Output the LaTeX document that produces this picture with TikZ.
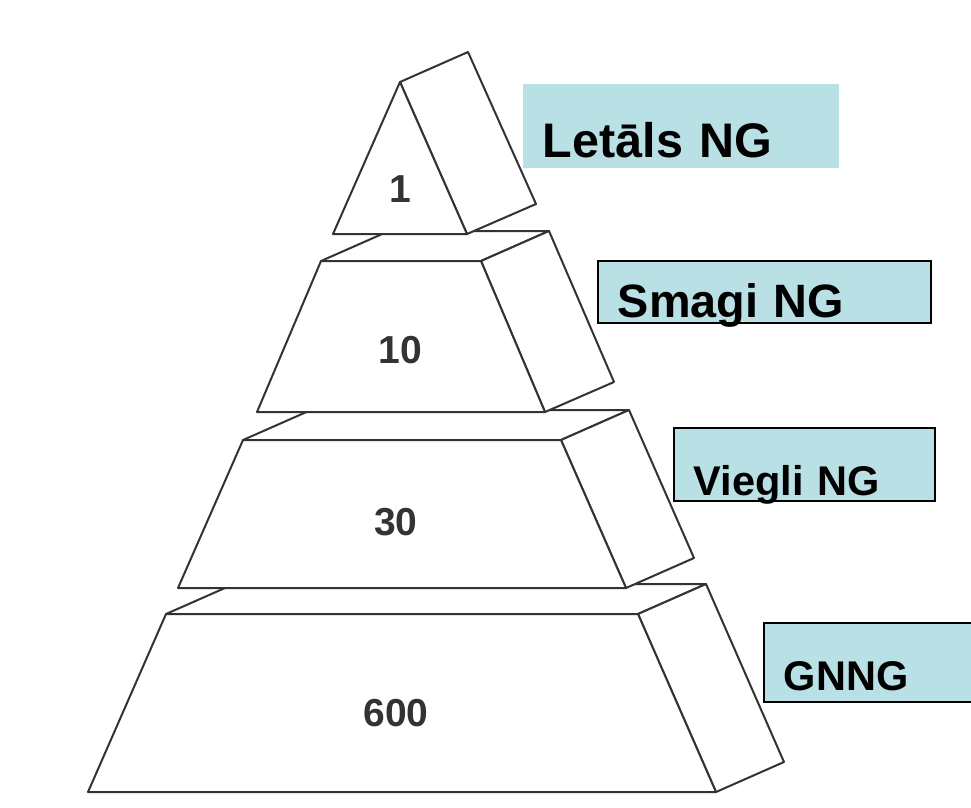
\documentclass[tikz,border=0pt]{standalone}
\usepackage{fontspec}
\setsansfont{Liberation Sans}
\definecolor{tagcyan}{RGB}{185,224,228}
\newcommand\labelsize[1]{\sffamily\bfseries\fontsize{#1}{#1}\selectfont}
\tikzset{
  block/.style={draw=black!80, line width=2pt, line join=round, fill=white},
  count/.style={font=\labelsize{39}, text=black!80},
  tag/.style={fill=tagcyan, draw=black, line width=1.6pt, anchor=north west,
    inner xsep=20pt, inner ysep=0pt, align=left},
}
\begin{document}
\begin{tikzpicture}[x=1pt,y=-1pt]
  \useasboundingbox (0,0) rectangle (971,807);
  % base layer
  \draw[block] (166,614) -- (234,584) -- (706,584) -- (638,614) -- cycle;
  \draw[block] (638,614) -- (706,584) -- (784,762) -- (716,792) -- cycle;
  \draw[block] (88,792) -- (166,614) -- (638,614) -- (716,792) -- cycle;
  \node[count] (n600) at (396,713) {600};
  % third layer
  \draw[block] (243,440) -- (311,410) -- (629,410) -- (561,440) -- cycle;
  \draw[block] (561,440) -- (629,410) -- (694,558) -- (626,588) -- cycle;
  \draw[block] (178,588) -- (243,440) -- (561,440) -- (626,588) -- cycle;
  \node[count] (n30) at (396,522) {30};
  % second layer
  \draw[block] (321,261) -- (389,231) -- (549,231) -- (481,261) -- cycle;
  \draw[block] (481,261) -- (549,231) -- (614,382) -- (545,412) -- cycle;
  \draw[block] (257,412) -- (321,261) -- (481,261) -- (545,412) -- cycle;
  \node[count] (n10) at (400,350) {10};
  % top
  \draw[block] (400,82) -- (468,52) -- (536,204) -- (467,234) -- cycle;
  \draw[block] (333,234) -- (400,82) -- (467,234) -- cycle;
  \node[count] (n1) at (400,189) {1};
  % labels
  \node[tag, draw=none, text width=276pt, text height=74pt, text depth=10pt,
    font=\labelsize{48.5}] (lethal) at (522,83) {Letāls NG};
  \node[tag, text width=293pt, text height=57pt, text depth=5pt,
    font=\labelsize{46.8}] (heavy) at (597,260) {Smagi NG};
  \node[tag, text width=221pt, text height=68pt, text depth=5pt,
    font=\labelsize{41.5}] (light) at (673,427) {Viegli NG};
  \node[tag, text width=172pt, text height=68pt, text depth=11pt,
    font=\labelsize{41.5}] (gnng) at (763,622) {GNNG};
\end{tikzpicture}
\end{document}
